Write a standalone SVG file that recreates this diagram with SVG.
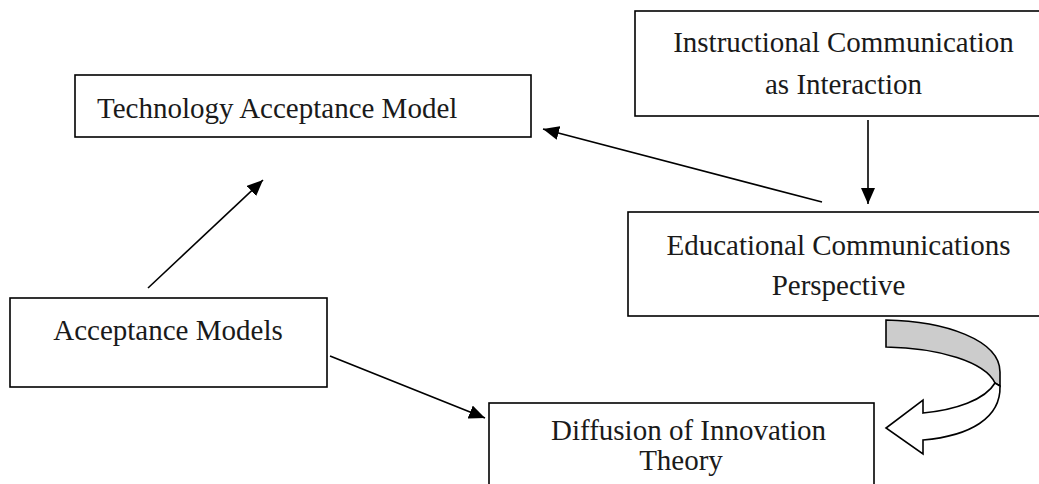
<svg xmlns="http://www.w3.org/2000/svg" width="1039" height="484" viewBox="0 0 1039 484">
<style>
.box{fill:#fff;stroke:#000;stroke-width:1.6}
.lbl{font-family:"Liberation Serif","Times New Roman",serif;font-size:29px;fill:#1a1a1a}
.c{text-anchor:middle}
.conn{stroke:#000;stroke-width:1.6;fill:none;marker-end:url(#ah)}
</style>
<defs>
<marker id="ah" markerUnits="userSpaceOnUse" markerWidth="18" markerHeight="14" refX="16" refY="7" orient="auto">
<path d="M0,0 L16,7 L0,14 Z" fill="#000"/>
</marker>
</defs>
<rect width="1039" height="484" fill="#fff"/>
<g id="tam">
<rect class="box" x="75" y="75" width="456" height="62"/>
<text class="lbl" x="97" y="118">Technology Acceptance Model</text>
</g>
<g id="ici">
<rect class="box" x="635" y="11" width="420" height="105"/>
<text class="lbl c" x="843.5" y="52">Instructional Communication</text>
<text class="lbl c" x="843.5" y="94">as Interaction</text>
</g>
<g id="ecp">
<rect class="box" x="628" y="212" width="427" height="104"/>
<text class="lbl c" x="838.5" y="255">Educational Communications</text>
<text class="lbl c" x="838.5" y="295">Perspective</text>
</g>
<g id="am">
<rect class="box" x="10" y="298" width="317" height="89"/>
<text class="lbl c" x="168" y="340">Acceptance Models</text>
</g>
<g id="dit">
<rect class="box" x="489" y="403" width="385" height="100"/>
<text class="lbl c" x="688.5" y="440">Diffusion of Innovation</text>
<text class="lbl c" x="681" y="470">Theory</text>
</g>
<g id="connectors">
<line class="conn" x1="868" y1="120" x2="868" y2="204"/>
<line class="conn" x1="822" y1="202" x2="543" y2="129"/>
<line class="conn" x1="148" y1="288" x2="263" y2="180"/>
<line class="conn" x1="330" y1="356" x2="485" y2="418"/>
<g id="curved-arrow" stroke="#000" stroke-width="1.6" stroke-linejoin="miter">
<path d="M886,320 C945,321 1000,340 1000,372 L1000,386 L995,383 C985,362 940,348 886,347 Z" fill="#ccc"/>
<path d="M995,383 C985,400 955,410 923,413 L923,400 L886,428 L923,454 L923,440 C970,436 1001,418 1000,386 Z" fill="#fff"/>
</g>
</g>
</svg>
